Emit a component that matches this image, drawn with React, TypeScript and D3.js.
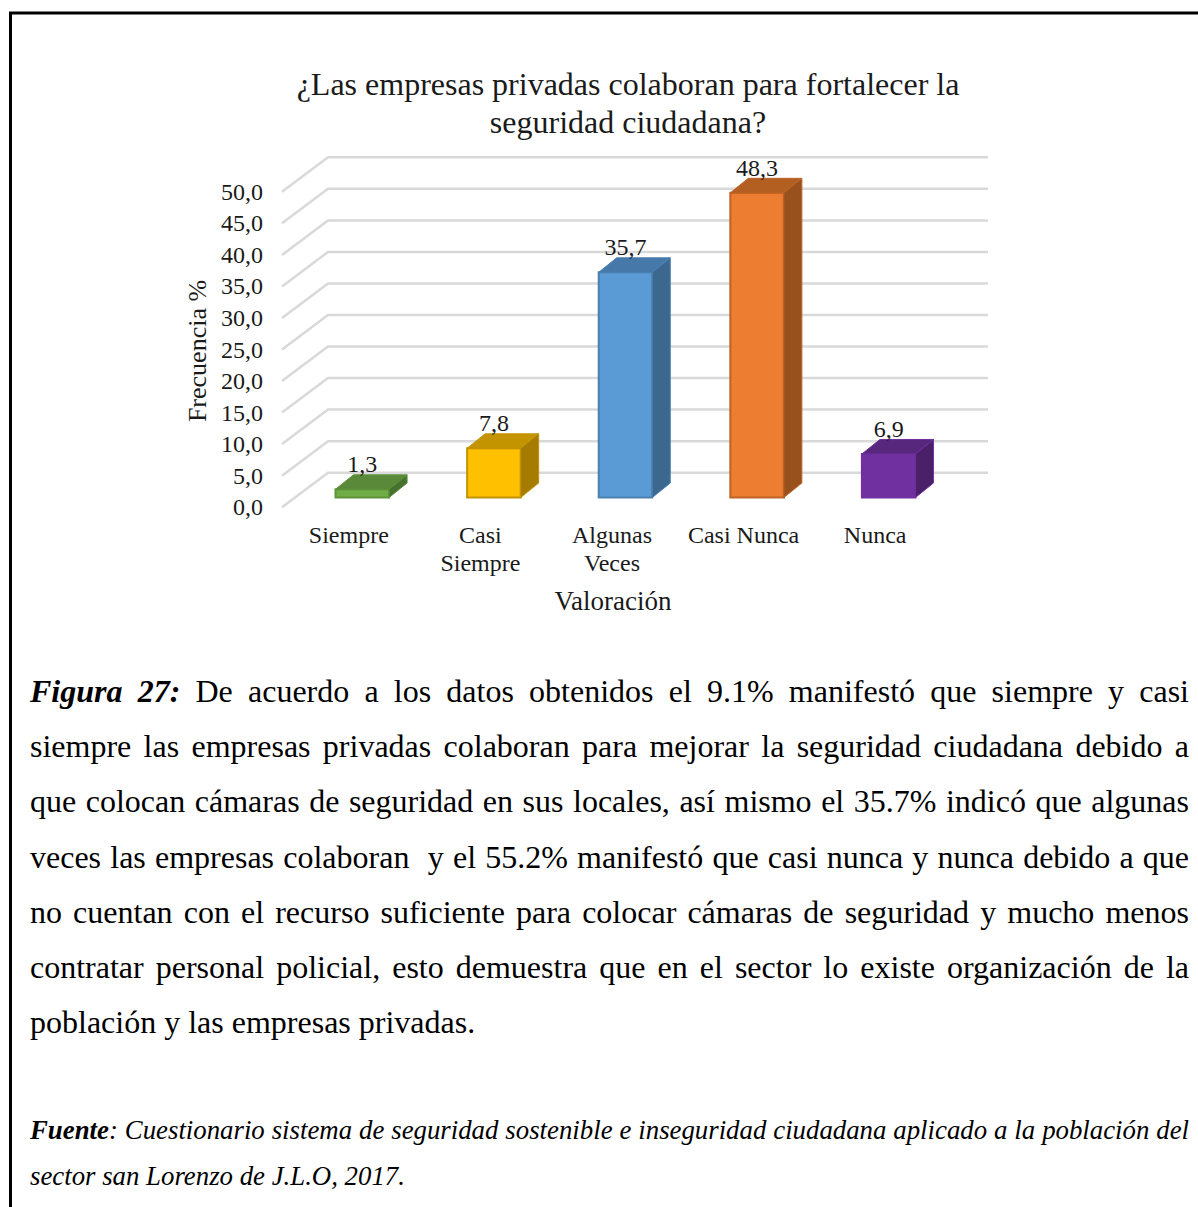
import React, { useEffect, useRef } from "react";
import * as d3 from "d3";

const titleLines = ["¿Las empresas privadas colaboran para fortalecer la", "seguridad ciudadana?"];
const categories = ["Siempre", "Casi Siempre", "Algunas Veces", "Casi Nunca", "Nunca"];
const categoryLines = [["Siempre"], ["Casi", "Siempre"], ["Algunas", "Veces"], ["Casi Nunca"], ["Nunca"]];
const values = [1.3, 7.8, 35.7, 48.3, 6.9];
const valueLabels = ["1,3", "7,8", "35,7", "48,3", "6,9"];
const ticks = [0, 5, 10, 15, 20, 25, 30, 35, 40, 45, 50];
const frontColors = ["#70ad47", "#ffc000", "#5b9bd5", "#ed7d31", "#7030a0"];
const topColors = ["#5a8a39", "#c49300", "#4679aa", "#b45f22", "#57267d"];
const sideColors = ["#48702e", "#a67c00", "#3c6890", "#98501d", "#4a2069"];
const borderColors = ["#5d9239", "#c49300", "#4a80b0", "#bd6426", "#7030a0"];
const figureLabel = "Figura 27:";
const bodyLines = [
  " De acuerdo a los datos obtenidos el 9.1% manifestó que siempre y casi",
  "siempre las empresas privadas colaboran para mejorar la seguridad ciudadana debido a",
  "que colocan cámaras de seguridad en sus locales, así mismo el 35.7% indicó que algunas",
  "veces las empresas colaboran  y el 55.2% manifestó que casi nunca y nunca debido a que",
  "no cuentan con el recurso suficiente para colocar cámaras de seguridad y mucho menos",
  "contratar personal policial, esto demuestra que en el sector lo existe organización de la",
  "población y las empresas privadas.",
];
const sourceLabel = "Fuente";
const sourceLines = [
  ": Cuestionario sistema de seguridad sostenible e inseguridad ciudadana aplicado a la población del",
  "sector san Lorenzo de J.L.O, 2017.",
];

const SERIF = "'Liberation Serif', 'Times New Roman', serif";
const W = 1198, H = 1207;
const yBack = d3.scaleLinear().domain([0, 50]).range([472.7, 157.3]);
const x = d3.scaleBand<string>().domain(categories).range([257.5, 993.5]).paddingInner(0.593).paddingOuter(0.593);
const depthX = 46, depthY = 34.5;
const barDx = 18, barDy = 14.5;
const barBase = 497.5;
const barH = d3.scaleLinear().domain([0, 50]).range([0, 315.4]);
const bodyLeft = 30, bodyRight = 1189;

function justify(el: SVGTextElement, target: number) {
  el.style.wordSpacing = "0px";
  const len = el.getComputedTextLength();
  const spaces = (el.textContent || "").split(" ").length - 1;
  if (spaces > 0) el.style.wordSpacing = (target - len) / spaces + "px";
}

export default function App() {
  const ref = useRef<SVGSVGElement>(null);
  useEffect(() => {
    const run = () => {
      d3.select(ref.current).selectAll<SVGTextElement, unknown>("text[data-right]").each(function () {
        const right = +(this.getAttribute("data-right") as string);
        const left = +(this.getAttribute("x") as string);
        justify(this, right - left);
      });
    };
    run();
    if ((document as any).fonts?.ready) (document as any).fonts.ready.then(run);
  }, []);
  return (
    <svg ref={ref} width={W} height={H} viewBox={`0 0 ${W} ${H}`}
      style={{ position: "absolute", left: 0, top: 0, background: "#fff" }} fontFamily={SERIF} fill="#000">
      <path d={`M10.5 ${H}V13H${W}`} fill="none" stroke="#000" strokeWidth={3} />
      {titleLines.map((t, i) => (
        <text key={t} x={628} y={95 + i * 37.5} textAnchor="middle" fontSize={32} fill="#1a1a1a">{t}</text>
      ))}
      {ticks.map((t) => {
        const yb = yBack(t);
        return (
          <g key={t}>
            <path d={`M282 ${yb + depthY}L328 ${yb}H988`} fill="none" stroke="#d9d9d9" strokeWidth={2.5} />
            <text x={263} y={yb + depthY + 8} textAnchor="end" fontSize={24} fill="#1a1a1a">
              {d3.format(".1f")(t).replace(".", ",")}
            </text>
          </g>
        );
      })}
      {categories.map((c, i) => {
        const l = x(c) as number, w = x.bandwidth();
        const h = barH(values[i]);
        const t = barBase - h;
        const cx = l + w / 2;
        return (
          <g key={c}>
            <rect x={l} y={t} width={w} height={h} fill={frontColors[i]} stroke={borderColors[i]} strokeWidth={2} />
            <path d={`M${l} ${t}l${barDx} ${-barDy}h${w}l${-barDx} ${barDy}z`} fill={topColors[i]} stroke={borderColors[i]} strokeWidth={1} />
            <path d={`M${l + w} ${t}l${barDx} ${-barDy}v${h}l${-barDx} ${barDy}z`} fill={sideColors[i]} stroke={borderColors[i]} strokeWidth={1} />
            <text x={cx} y={t - 17} textAnchor="middle" fontSize={24} fill="#1a1a1a">{valueLabels[i]}</text>
            {categoryLines[i].map((s, j) => (
              <text key={s} x={cx - 13.5} y={543 + j * 28} textAnchor="middle" fontSize={24} fill="#1a1a1a">{s}</text>
            ))}
          </g>
        );
      })}
      <text transform="translate(206,351) rotate(-90)" textAnchor="middle" fontSize={26} fill="#1a1a1a">Frecuencia %</text>
      <text x={613} y={610} textAnchor="middle" fontSize={27} fill="#1a1a1a">Valoración</text>
      {bodyLines.map((t, i) => (
        <text key={i} x={bodyLeft} y={702 + i * 55.2} fontSize={32} xmlSpace="preserve"
          {...(i < bodyLines.length - 1 ? { "data-right": bodyRight } : {})}>
          {i === 0 ? <tspan fontWeight="bold" fontStyle="italic">{figureLabel}</tspan> : null}{t}
        </text>
      ))}
      <text x={bodyLeft} y={1139} fontSize={26.8} fontStyle="italic" data-right={bodyRight} xmlSpace="preserve">
        <tspan fontWeight="bold">{sourceLabel}</tspan>{sourceLines[0]}
      </text>
      <text x={bodyLeft} y={1185} fontSize={26.8} fontStyle="italic">{sourceLines[1]}</text>
    </svg>
  );
}
